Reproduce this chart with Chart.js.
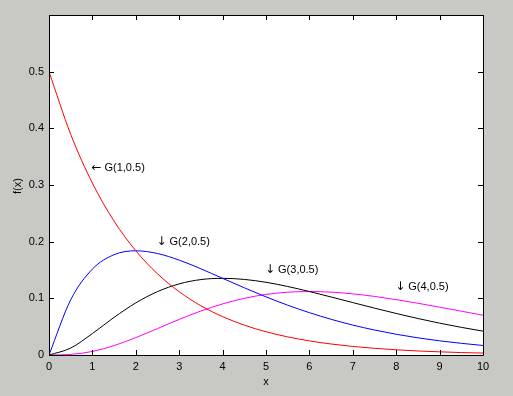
<!DOCTYPE html>
<html>
<head>
<meta charset="utf-8">
<script src="https://cdn.jsdelivr.net/npm/chart.js@4/dist/chart.umd.min.js"></script>
<style>
  html, body { margin: 0; padding: 0; background: #c8c8c4; }
  #wrap { width: 513px; height: 396px; }
</style>
</head>
<body>
<div id="wrap"><canvas id="c" width="513" height="396"></canvas></div>
<script>
// gamma densities G(k, 0.5), every 0.5 in x
const xs = [0, 0.5, 1, 1.5, 2, 2.5, 3, 3.5, 4, 4.5, 5, 5.5, 6, 6.5, 7, 7.5, 8, 8.5, 9, 9.5, 10];
const g1 = [0.5, 0.3894, 0.3033, 0.2362, 0.1839, 0.1433, 0.1116, 0.0869, 0.0677, 0.0527, 0.0410,
            0.0320, 0.0249, 0.0194, 0.0151, 0.0118, 0.0092, 0.0071, 0.0056, 0.0043, 0.0034];
const g2 = [0, 0.0974, 0.1516, 0.1771, 0.1839, 0.1791, 0.1674, 0.1521, 0.1353, 0.1186, 0.1026,
            0.0879, 0.0747, 0.0630, 0.0528, 0.0441, 0.0366, 0.0303, 0.0250, 0.0206, 0.0168];
const g3 = [0, 0.0122, 0.0379, 0.0664, 0.0920, 0.1119, 0.1255, 0.1331, 0.1353, 0.1334, 0.1283,
            0.1209, 0.1120, 0.1024, 0.0925, 0.0827, 0.0733, 0.0644, 0.0562, 0.0488, 0.0421];
const g4 = [0, 0.0010, 0.0063, 0.0166, 0.0307, 0.0466, 0.0628, 0.0776, 0.0902, 0.1000, 0.1069,
            0.1108, 0.1120, 0.1109, 0.1079, 0.1034, 0.0977, 0.0913, 0.0844, 0.0773, 0.0702];
const xTicks = [0, 1, 2, 3, 4, 5, 6, 7, 8, 9, 10];
const yTicks = [0, 0.1, 0.2, 0.3, 0.4, 0.5, 0.6];
const labels = [
  { arrow: '\u2190', text: 'G(1,0.5)', x: 1, y: 0.33 },
  { arrow: '\u2193', text: 'G(2,0.5)', x: 2.5, y: 0.2 },
  { arrow: '\u2193', text: 'G(3,0.5)', x: 5, y: 0.15 },
  { arrow: '\u2193', text: 'G(4,0.5)', x: 8, y: 0.12 }
];

const FONT = '11px "Liberation Sans", Arial, sans-serif';
const ARROW_FONT = '12px "DejaVu Sans", sans-serif';

function pts(ys) {
  return xs.map((x, i) => ({ x: x, y: ys[i] }));
}

function line(data, color) {
  return {
    data: pts(data),
    borderColor: color,
    borderWidth: 1,
    pointRadius: 0,
    fill: false,
    cubicInterpolationMode: 'monotone'
  };
}

// white axes box, inward ticks on all four sides, text labels
const matlabAxes = {
  id: 'matlabAxes',
  beforeDraw(chart) {
    const a = chart.chartArea, ctx = chart.ctx;
    ctx.save();
    ctx.fillStyle = '#ffffff';
    ctx.fillRect(a.left, a.top, a.right - a.left, a.bottom - a.top);
    ctx.restore();
  },
  afterDraw(chart) {
    const a = chart.chartArea, ctx = chart.ctx;
    const sx = chart.scales.x, sy = chart.scales.y;
    ctx.save();
    ctx.strokeStyle = '#000';
    ctx.lineWidth = 1;
    ctx.beginPath();
    ctx.rect(Math.round(a.left) + 0.5, Math.round(a.top) + 0.5,
             Math.round(a.right - a.left), Math.round(a.bottom - a.top));
    xTicks.forEach(v => {
      const px = Math.round(sx.getPixelForValue(v)) + 0.5;
      ctx.moveTo(px, a.bottom); ctx.lineTo(px, a.bottom - 5);
      ctx.moveTo(px, a.top); ctx.lineTo(px, a.top + 5);
    });
    yTicks.forEach(v => {
      const py = Math.round(sy.getPixelForValue(v)) + 0.5;
      ctx.moveTo(a.left, py); ctx.lineTo(a.left + 5, py);
      ctx.moveTo(a.right, py); ctx.lineTo(a.right - 5, py);
    });
    ctx.stroke();

    ctx.fillStyle = '#000';
    ctx.textBaseline = 'middle';
    ctx.textAlign = 'left';
    labels.forEach(l => {
      const px = sx.getPixelForValue(l.x), py = sy.getPixelForValue(l.y);
      ctx.font = ARROW_FONT;
      ctx.fillText(l.arrow, px - 1, py);
      const w = ctx.measureText(l.arrow).width;
      ctx.font = FONT;
      ctx.fillText(l.text, px - 1 + w + 3, py);
    });

    ctx.font = FONT;
    ctx.textAlign = 'center';
    ctx.fillText('x', (a.left + a.right) / 2, 382);
    ctx.translate(18, 186);
    ctx.rotate(-Math.PI / 2);
    ctx.fillText('f(x)', 0, 0);
    ctx.restore();
  }
};

new Chart(document.getElementById('c'), {
  type: 'line',
  data: {
    datasets: [
      line(g1, '#ff0000'),
      line(g2, '#0000ff'),
      line(g3, '#000000'),
      line(g4, '#ff00ff')
    ]
  },
  options: {
    responsive: false,
    animation: false,
    layout: { padding: { top: 15, right: 30, left: 0, bottom: 0 } },
    plugins: { legend: { display: false }, tooltip: { enabled: false } },
    scales: {
      x: {
        type: 'linear', min: 0, max: 10,
        afterFit: s => { s.height = 41; },
        afterBuildTicks: s => { s.ticks = xTicks.map(v => ({ value: v })); },
        grid: { display: false, drawTicks: false },
        border: { display: false },
        ticks: { color: '#000', font: { family: 'Liberation Sans', size: 11 }, padding: 5, maxRotation: 0 }
      },
      y: {
        type: 'linear', min: 0, max: 0.6,
        afterFit: s => { s.width = 49; },
        afterBuildTicks: s => { s.ticks = yTicks.map(v => ({ value: v })); },
        grid: { display: false, drawTicks: false },
        border: { display: false },
        ticks: {
          color: '#000', font: { family: 'Liberation Sans', size: 11 }, padding: 5,
          callback: v => (v >= 0.59 ? '' : String(Math.round(v * 10) / 10))
        }
      }
    }
  },
  plugins: [matlabAxes]
});
</script>
</body>
</html>
